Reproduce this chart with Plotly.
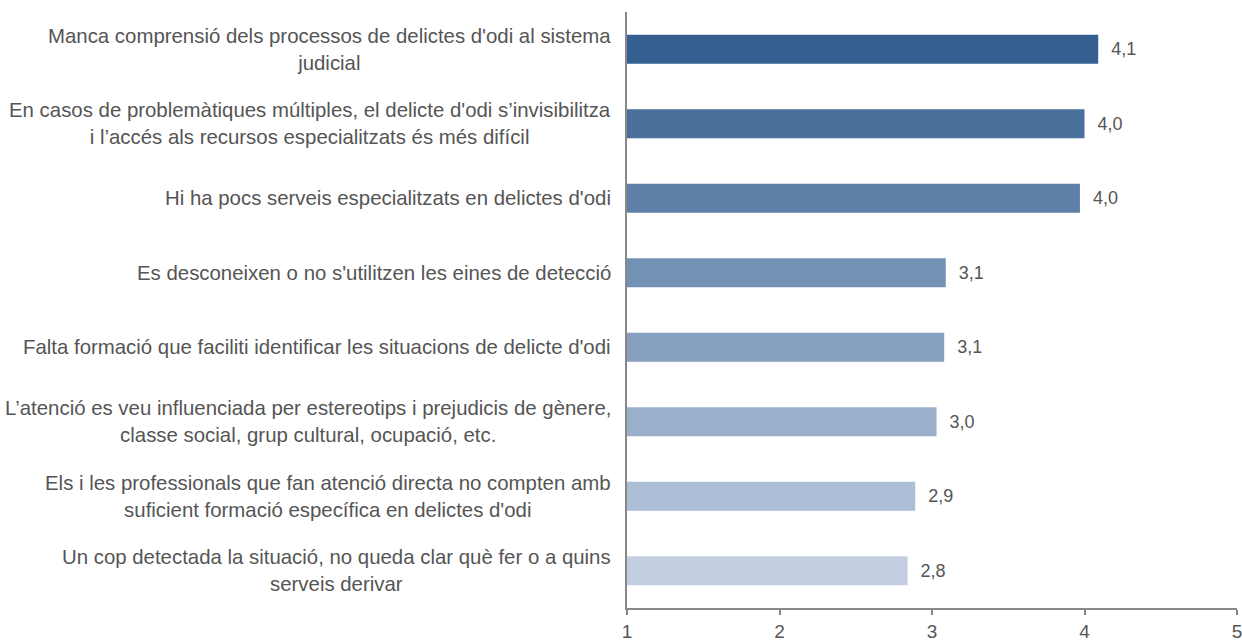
import plotly.graph_objects as go

categories = [
    "Manca comprensió dels processos de delictes d'odi al sistema<br>judicial",
    "En casos de problemàtiques múltiples, el delicte d'odi s’invisibilitza<br>i l’accés als recursos especialitzats és més difícil",
    "Hi ha pocs serveis especialitzats en delictes d'odi",
    "Es desconeixen o no s'utilitzen les eines de detecció",
    "Falta formació que faciliti identificar les situacions de delicte d'odi",
    "L’atenció es veu influenciada per estereotips i prejudicis de gènere,<br>classe social, grup cultural, ocupació, etc.",
    "Els i les professionals que fan atenció directa no compten amb<br>suficient formació específica en delictes d'odi",
    "Un cop detectada la situació, no queda clar què fer o a quins<br>serveis derivar",
]
values = [4.09, 4.00, 3.97, 3.09, 3.08, 3.03, 2.89, 2.84]
colors = ["#365F91", "#4A6F9B", "#5E7FA6", "#7390B5", "#869FBF", "#9AAFCA", "#ADBFD6", "#C3CFE0"]
x_ticks = [1, 2, 3, 4, 5]

FONT = "Liberation Sans"
GRAY = "#555555"

fig = go.Figure(go.Bar(
    y=categories,
    x=values,
    orientation="h",
    marker=dict(color=colors, line=dict(width=0)),
    width=0.39,
    texttemplate="  %{x:.1f}",
    textposition="outside",
    textfont=dict(family=FONT, size=18, color=GRAY),
    cliponaxis=False,
    hoverinfo="skip",
))

for cat in categories:
    fig.add_annotation(
        x=0, xref="paper", y=cat, yref="y",
        text=cat, showarrow=False, xanchor="right", yanchor="middle",
        align="center", xshift=-14,
        font=dict(family=FONT, size=20.4, color=GRAY),
    )

fig.update_layout(
    width=1242, height=641,
    margin=dict(l=627, r=5, t=12, b=33, autoexpand=False),
    plot_bgcolor="white", paper_bgcolor="white",
    separators=",.",
    showlegend=False,
)
fig.update_xaxes(
    range=[1, 5], tickvals=x_ticks, showgrid=False, zeroline=False,
    showline=True, linecolor="#888888", linewidth=1.5,
    ticks="outside", ticklen=5, tickcolor="#888888", tickwidth=1.5,
    tickfont=dict(family=FONT, size=19, color=GRAY),
    ticklabelstandoff=0, ticklabeloverflow="allow", automargin=False,
)
fig.update_yaxes(
    autorange="reversed", showticklabels=False, showgrid=False,
    showline=True, linecolor="#888888", linewidth=1.5, ticks="",
    automargin=False,
)

fig.write_html(
    "out.html",
    config={"displayModeBar": False},
    post_script="document.body.style.margin='0';document.body.style.overflow='hidden';",
)
